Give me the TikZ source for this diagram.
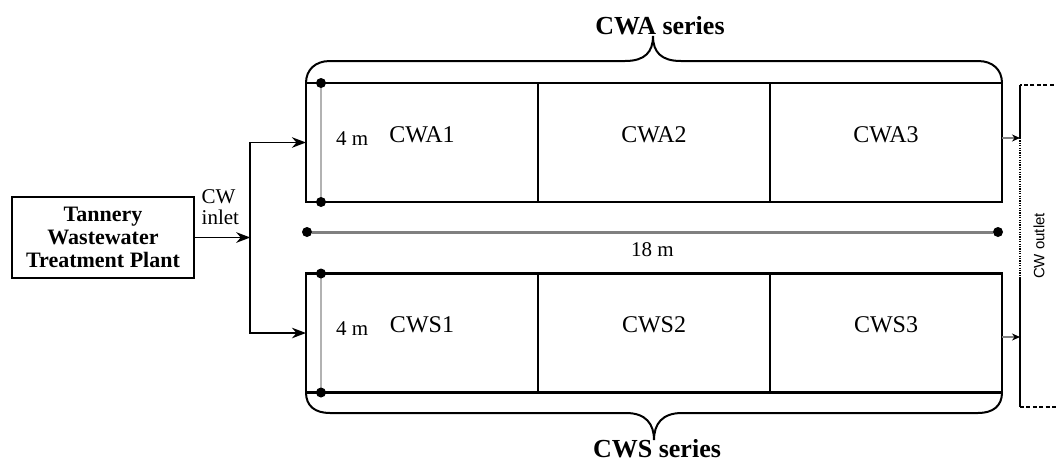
\documentclass[tikz,border=0pt]{standalone}
\usepackage{fontspec}
\setmainfont{Liberation Serif}
\newfontfamily\outletfont{Liberation Sans}
\usetikzlibrary{arrows.meta,positioning,calc}

\begin{document}
\begin{tikzpicture}[x=0.5pt,y=-0.5pt,>=Stealth,
  cell/.style={draw,line width=1.3pt,minimum width=116pt,minimum height=59.5pt,inner sep=0pt,outer sep=0pt},
  cellname/.style={font=\fontsize{12}{14}\selectfont},
  dimtext/.style={font=\fontsize{10.5}{12}\selectfont},
  dimdot/.style={circle,fill=black,inner sep=0pt,minimum size=5pt},
  feed/.style={->,line width=0.9pt},
  drain/.style={-{Stealth[length=4pt,width=3.5pt,black]},gray,line width=0.8pt},
  brace/.style={line width=1pt}]
\useasboundingbox (0,0) rectangle (1056,462);
% source and inlet
\node[draw,line width=1.3pt,minimum width=91pt,minimum height=40.5pt,align=center,
  font=\bfseries\fontsize{11}{11.5}\selectfont] (plant) at (103,237.5) {Tannery\\Wastewater\\Treatment Plant};
\node[anchor=south west,align=left,inner sep=0pt,font=\fontsize{10.5}{10.5}\selectfont] (inlet)
  at ([xshift=3pt,yshift=6pt]plant.east) {CW\\inlet};
\coordinate (split) at ($(plant.east)+(55,0)$);
% the two series of cells
\foreach \s/\y in {a/142.5,s/333}{
  \node[cell] (cw\s1) at (422,\y) {};
  \node[cell,right=0pt of cw\s1] (cw\s2) {};
  \node[cell,right=0pt of cw\s2] (cw\s3) {};
  \draw[gray!60,line width=1.3pt] ($(cw\s1.north west)+(15,0)$) node[dimdot]{} -- ($(cw\s1.south west)+(15,0)$) node[dimdot]{};
  \node[dimtext,anchor=west] at ([xshift=11.5pt,yshift=2pt]cw\s1.west) {4 m};
}
\foreach \s/\t in {a/A,s/S} \foreach \i in {1,2,3}
  \node[cellname] at ([yshift=4pt]cw\s\i.center) {CW\t\i};
\draw[feed] (plant.east) -- (split);
\draw[feed] (split) |- (cwa1.west);
\draw[feed] (split) |- (cws1.west);
% length
\node[dimdot] (lenL) at (307,232) {};
\node[dimdot] (lenR) at (998,232) {};
\draw[gray,line width=1.5pt] (lenL) -- node[dimtext,below=1pt,black] (lenlbl) {18 m} (lenR);
% outlet
\coordinate (outTop) at (1020,85);
\coordinate (outA) at (1020,138);
\coordinate (outMid) at (1020,277);
\coordinate (outS) at (1020,337);
\coordinate (outBot) at (1020,407);
\draw[drain] (cwa3.east |- outA) -- (outA);
\draw[drain] (cws3.east |- outS) -- (outS);
\draw[line width=0.8pt,dash pattern=on 2pt off 1.2pt] (1060,85) -- (outTop);
\draw[line width=0.8pt] (outTop) -- (outA);
\draw[line width=0.8pt,dash pattern=on 0.6pt off 0.6pt] (outA) -- (outMid);
\draw[line width=0.8pt] (outMid) -- (outBot);
\draw[line width=0.8pt,dash pattern=on 2pt off 1.2pt] (outBot) -- (1060,407);
\node[rotate=90,font=\outletfont\fontsize{7.5}{9}\selectfont] (outlet) at (1039,246) {CW outlet};
% braces
\draw[brace] (cwa1.north west) .. controls (306,70) and (315,61) .. (330,61) -- (625,61)
  .. controls (645,61) and (653,52) .. (653,36) .. controls (653,52) and (661,61) .. (681,61)
  -- (978,61) .. controls (993,61) and (1002,70) .. (cwa3.north east);
\draw[brace] (cws1.south west) .. controls (306,406) and (315,413) .. (330,413) -- (626,413)
  .. controls (646,413) and (654,424) .. (654,440) .. controls (654,424) and (662,413) .. (682,413)
  -- (978,413) .. controls (993,413) and (1002,406) .. (cws3.south east);
\node[font=\bfseries\fontsize{13}{15}\selectfont] (cwaser) at (660,26) {CWA series};
\node[font=\bfseries\fontsize{13}{15}\selectfont] (cwsser) at (657,449) {CWS series};
\end{tikzpicture}
\end{document}
